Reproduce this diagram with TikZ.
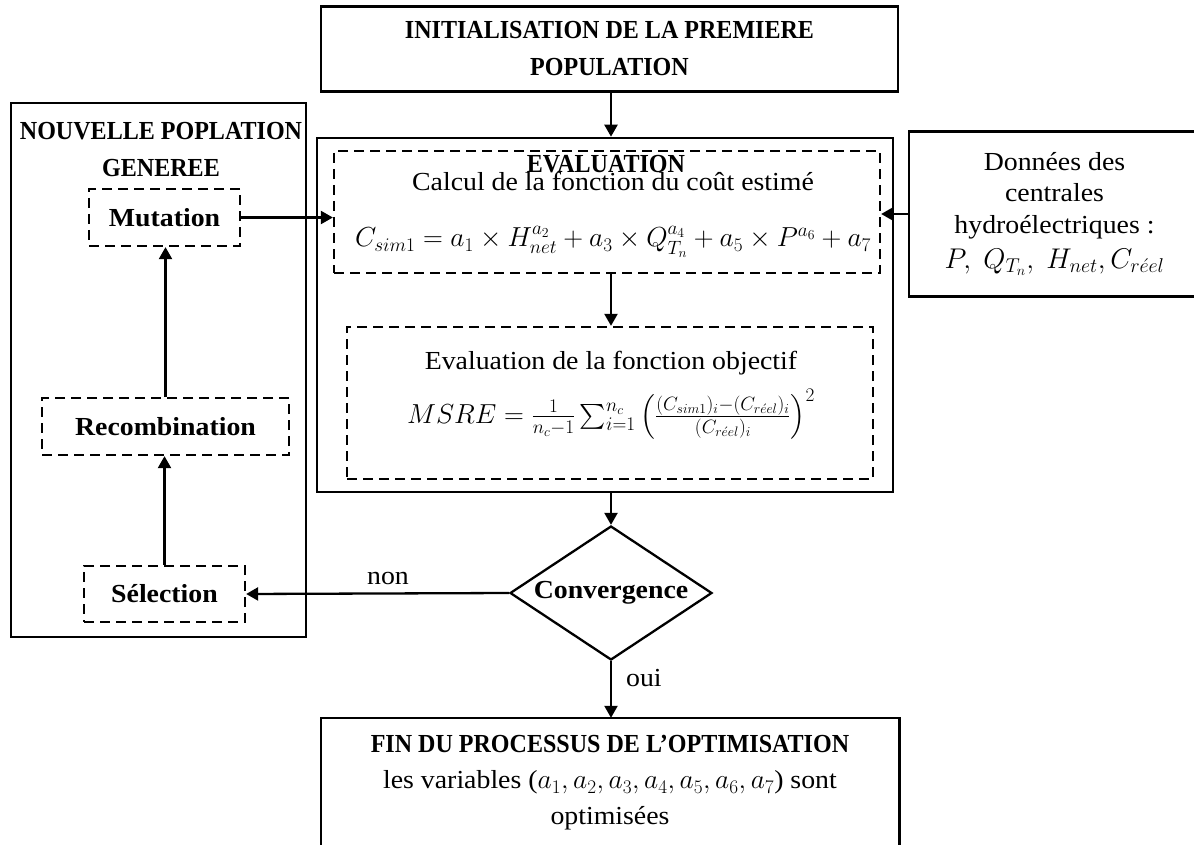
\documentclass[tikz,border=0pt]{standalone}
\usepackage{fix-cm}
\usepackage{amsmath}
\usepackage{fontspec}
\setmainfont[FakeStretch=1.07]{Liberation Serif}
\newfontfamily\capsfont[FakeStretch=0.925]{Liberation Serif}
\newcommand{\bigmath}{\fontsize{27.5}{36}\selectfont}
\usepackage{tikz}
\usetikzlibrary{arrows.meta, positioning, shapes.geometric, calc}

\begin{document}
\begin{tikzpicture}[x=1pt, y=-1pt,
    txt/.style={font=\fontsize{26}{36}\selectfont, align=center, inner sep=0pt},
    bold/.style={font=\fontsize{26}{36}\selectfont\bfseries},
    caps/.style={font=\fontsize{26}{37}\selectfont\capsfont\bfseries},
    solidbox/.style={draw, line width=2.6pt, txt},
    dashbox/.style={draw, line width=2.3pt, dash pattern=on 10pt off 6pt, txt},
    flow/.style={-{Triangle[length=12pt, width=13pt]}, line width=2.3pt}]
    \useasboundingbox (0,0) rectangle (1194,845);

    % Nodes
    \node[solidbox, caps, minimum width=577pt, minimum height=85pt] (init) at (609.5,49) {INITIALISATION DE LA PREMIERE\\POPULATION};

    \node[solidbox, minimum width=576pt, minimum height=354pt] (eval) at (605,315) {};
    \node[dashbox, minimum width=546pt, minimum height=122pt] (calc) at (607,212) {};
    \node[txt] (calctext) at (613,215) {Calcul de la fonction du coût estimé\\[20pt]
        {\bigmath$C_{sim1}=a_1\times H_{net}^{a_2}+a_3\times Q_{T_n}^{a_4}+a_5\times P^{a_6}+a_7$}};
    \node[txt, caps] (evaltitle) at (606,164) {EVALUATION};
    \node[dashbox, minimum width=526pt, minimum height=152pt] (obj) at (610,403) {};
    \node[txt] (objtext) at (611,395) {Evaluation de la fonction objectif\\[14pt]
        {\bigmath$MSRE=\frac{1}{n_c-1}\sum_{i=1}^{n_c}\left(\frac{(C_{sim1})_i-(C_{r\acute{e}el})_i}{(C_{r\acute{e}el})_i}\right)^2$}};

    \node[draw, diamond, aspect=1.5, line width=2.3pt, txt, bold, minimum width=202pt, minimum height=134pt] (conv) at (611,593) {Convergence};

    \node[txt, minimum width=578pt, minimum height=130pt] (fin) at (610,783) {{\capsfont\bfseries FIN DU PROCESSUS DE L’OPTIMISATION}\\
        les variables ({\bigmath$a_1, a_2, a_3, a_4, a_5, a_6, a_7$}) sont\\optimisées};
    \draw[line width=2.6pt] (fin.south west) |- (fin.north east) -- (fin.south east);

    \node[txt, font=\fontsize{26}{31.5}\selectfont, minimum width=291pt, minimum height=164pt] (data) at (1054.5,214) {Données des\\centrales\\hydroélectriques :\\[4pt]
        {\fontsize{28.5}{32}\selectfont$P,\ Q_{T_n},\ H_{net}, C_{r\acute{e}el}$}};
    \draw[line width=2.6pt] (data.north east) -- (data.north west) -- (data.south west) -- (data.south east);

    \node[solidbox, minimum width=295pt, minimum height=534pt] (newpop) at (158.5,370) {};
    \node[txt, caps] (newtitle) at (161,150) {NOUVELLE POPLATION\\GENEREE};
    \node[dashbox, bold, minimum width=151pt, minimum height=57pt] (mutation) at (164.5,217.5) {Mutation};
    \node[dashbox, bold, minimum width=247pt, minimum height=57pt] (recomb) at (165.5,426.5) {Recombination};
    \node[dashbox, bold, minimum width=161pt, minimum height=56pt] (selection) at (164.5,594) {Sélection};

    % Arrows
    \draw[flow] (init.south -| conv) -- (eval.north -| conv);
    \draw[flow] (calc.south -| conv) -- (obj.north -| conv);
    \draw[flow] (eval.south -| conv) -- (conv.north);
    \draw[flow] (mutation.east) -- (mutation.east -| calc.west);
    \draw[flow] (data.west) -- (data.west -| calc.east);
    \draw[flow] (conv.west) -- node[txt, above=8pt, pos=0.46] {non} (selection.east);
    \draw[flow] (conv.south) -- node[txt, right=14pt, pos=0.3] {oui} (fin.north -| conv);
    \draw[flow] (selection.north) -- (selection.north |- recomb.south);
    \draw[flow] (recomb.north) -- (recomb.north |- mutation.south);
\end{tikzpicture}
\end{document}
